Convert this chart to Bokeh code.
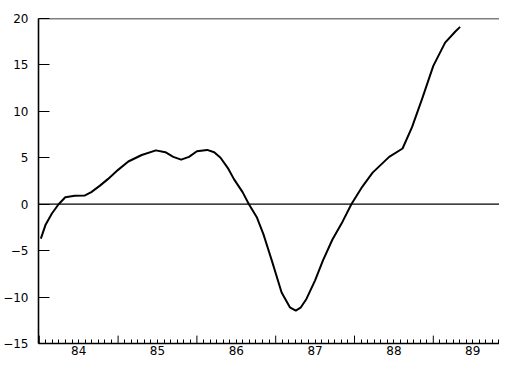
from bokeh.plotting import figure
from bokeh.models import Range1d, LinearAxis, FixedTicker, Span
from bokeh.embed import file_html
from bokeh.resources import INLINE

# Data (x in years, y in values)
years = [1984.02, 1984.08, 1984.16, 1984.245, 1984.33, 1984.45, 1984.58, 1984.66,
         1984.77, 1984.87, 1985.00, 1985.13, 1985.30, 1985.48, 1985.60, 1985.70,
         1985.80, 1985.90, 1986.00, 1986.13, 1986.22, 1986.30, 1986.40, 1986.47,
         1986.58, 1986.66, 1986.76, 1986.845, 1986.95, 1987.075, 1987.18, 1987.255,
         1987.32, 1987.39, 1987.50, 1987.60, 1987.72, 1987.85, 1987.96, 1988.10,
         1988.23, 1988.44, 1988.61, 1988.73, 1988.86, 1989.00, 1989.15, 1989.28,
         1989.34]
values = [-3.7, -2.2, -1.0, 0.0, 0.75, 0.9, 0.95, 1.3,
          2.0, 2.7, 3.7, 4.6, 5.3, 5.8, 5.6, 5.1,
          4.8, 5.1, 5.7, 5.85, 5.6, 5.0, 3.8, 2.7,
          1.3, 0.0, -1.4, -3.25, -6.05, -9.5, -11.1, -11.45,
          -11.1, -10.2, -8.2, -6.05, -3.8, -1.85, 0.0, 1.9,
          3.4, 5.1, 6.0, 8.3, 11.4, 14.9, 17.4, 18.6,
          19.1]

year_starts = [1984, 1985, 1986, 1987, 1988, 1989, 1990]
year_labels = ["84", "85", "86", "87", "88", "89"]
y_ticks = [-15, -10, -5, 0, 5, 10, 15, 20]

FONT = "DejaVu Sans"
Y_MIN, Y_MAX = -15, 20

p = figure(width=499, height=358, output_backend="svg", toolbar_location=None,
           x_axis_type=None, y_axis_type=None,
           x_range=Range1d(1983.99, 1989.84), y_range=Range1d(Y_MIN, Y_MAX),
           min_border_left=34, min_border_right=0, min_border_top=18, min_border_bottom=15)
p.outline_line_color = None
p.xgrid.visible = False
p.ygrid.visible = False
p.background_fill_color = "white"
p.border_fill_color = "white"

# y axis
yax = LinearAxis(ticker=FixedTicker(ticks=y_ticks, minor_ticks=[]))
yax.axis_line_color = "black"
yax.axis_line_width = 1.6
yax.major_tick_in = 11
yax.major_tick_out = 0
yax.major_tick_line_color = "black"
yax.major_tick_line_width = 1.2
yax.minor_tick_line_color = None
yax.major_label_text_font = FONT
yax.major_label_text_font_size = "12px"
yax.major_label_text_color = "black"
yax.major_label_standoff = 10
p.add_layout(yax, "left")

# x axis: labels centred on each year, short ticks every month
mids = [y0 + 0.5 for y0 in year_starts[:-1]]
months = [y0 + m / 12 for y0 in year_starts[:-1] for m in range(1, 12) if m != 6]
xax = LinearAxis(ticker=FixedTicker(ticks=mids, minor_ticks=months),
                 major_label_overrides={m: l for m, l in zip(mids, year_labels)})
xax.axis_line_color = "black"
xax.axis_line_width = 1.6
xax.major_tick_line_color = "black"
xax.minor_tick_line_color = "black"
xax.major_tick_in = 4
xax.major_tick_out = 0
xax.minor_tick_in = 4
xax.minor_tick_out = 0
xax.major_label_text_font = FONT
xax.major_label_text_font_size = "12px"
xax.major_label_text_color = "black"
xax.major_label_standoff = 2
p.add_layout(xax, "below")

# taller ticks at the year boundaries
tick_h = 0.85  # about 8 px in data units
p.segment(x0=year_starts, x1=year_starts, y0=[Y_MIN] * len(year_starts),
          y1=[Y_MIN + tick_h] * len(year_starts), line_color="black", line_width=1)

p.add_layout(Span(location=0, dimension="width", line_color="black", line_width=1.2))
p.add_layout(Span(location=Y_MAX, dimension="width", line_color="black", line_width=1.6))

p.line(years, values, line_color="black", line_width=2, line_join="round")

open("out.html", "w").write(file_html(p, INLINE))
